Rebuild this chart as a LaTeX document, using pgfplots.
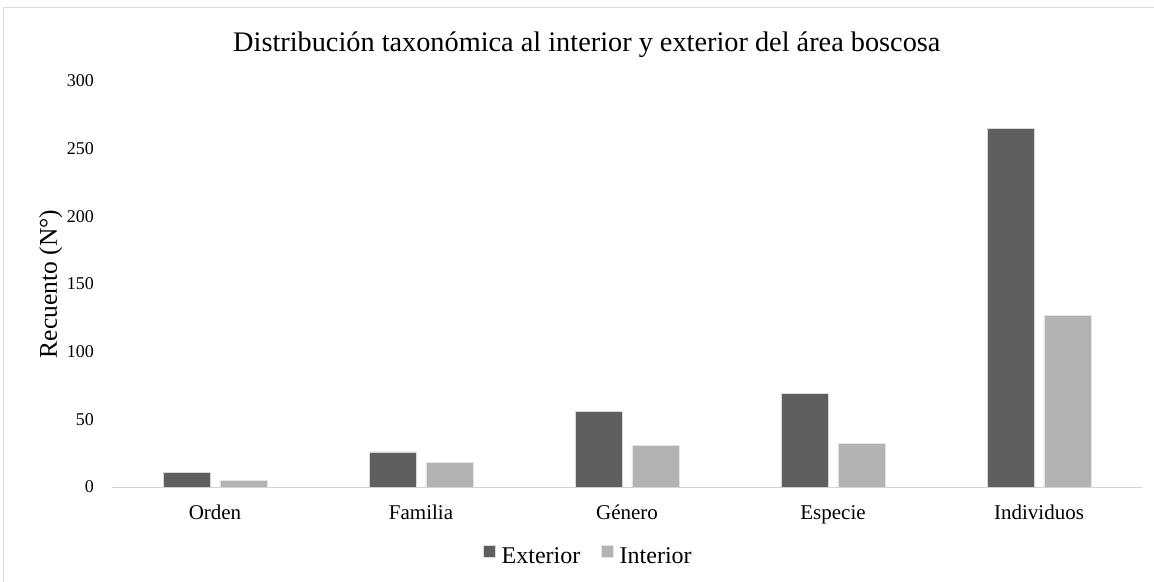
\documentclass[border=0pt]{standalone}
\usepackage{fontspec}
\setmainfont{Liberation Serif}
\usepackage{pgfplots}
\pgfplotsset{compat=1.18}
\definecolor{ext}{HTML}{5F5F5F}
\definecolor{intc}{HTML}{B3B3B3}
\begin{document}
\begin{tikzpicture}
\useasboundingbox (0,0) rectangle (1154bp,582bp);
\draw[gray!30] (3bp,-5bp) rectangle (1159bp,575bp);
\begin{axis}[
  at={(112bp,95bp)}, anchor=south west,
  scale only axis, width=1030bp, height=406bp,
  xmin=-0.5, xmax=4.5, ymin=0, ymax=300,
  ytick={0,50,...,300},
  xtick=data,
  xticklabels={Orden,Familia,Género,Especie,Individuos},
  ybar=9.5bp, bar width=47bp,
  axis x line=bottom, axis y line=left,
  x axis line style={draw=gray!35, line width=1bp, -},
  y axis line style={draw=none},
  major tick length=0pt,
  xticklabel style={font=\fontsize{21bp}{24bp}\selectfont, anchor=base, yshift=-32bp},
  yticklabel style={font=\fontsize{18bp}{20bp}\selectfont, anchor=east, inner sep=0pt, xshift=-18bp},
  /pgf/number format/assume math mode=true,
  ylabel={Recuento (N°)},
  ylabel style={font=\fontsize{25.5bp}{28bp}\selectfont, at={(axis description cs:-0.0595,0.5)}, anchor=center, inner sep=0pt},
  title={Distribución taxonómica al interior y exterior del área boscosa},
  title style={font=\fontsize{28.3bp}{32bp}\selectfont, at={(axis description cs:0.461,1)}, anchor=base, yshift=24bp, inner sep=0pt},
  legend style={at={(axis description cs:0.4626,-0.170)}, anchor=center, draw=none,
    legend columns=2, font=\fontsize{24bp}{26bp}\selectfont,
    /tikz/every odd column/.append style={column sep=4bp},
    /tikz/every even column/.append style={column sep=19bp}},
  legend image code/.code={\fill[#1] (0bp,0bp) rectangle (12bp,12bp);},
  legend cell align=left,
]
\addplot[fill=ext, draw=white!85!black] coordinates {(0,11) (1,26) (2,56) (3,69) (4,265)};
\addplot[fill=intc, draw=white!90!black] coordinates {(0,5) (1,18) (2,31) (3,32) (4,127)};
\legend{Exterior,Interior}
\end{axis}
\end{tikzpicture}
\end{document}
